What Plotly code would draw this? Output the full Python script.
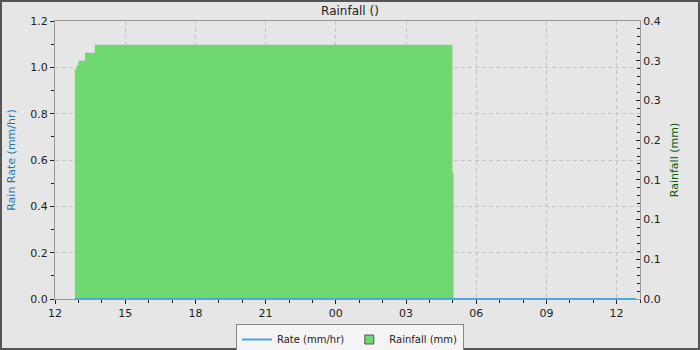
import plotly.graph_objects as go

# Rainfall (mm) step data: time of change -> value
rain_times = ["2024-01-01 12:51", "2024-01-01 12:55", "2024-01-01 13:00", "2024-01-01 13:17",
              "2024-01-01 13:42", "2024-01-02 04:59", "2024-01-02 05:02"]
rain_vals = [0.289, 0.294, 0.300, 0.310, 0.320, 0.159, 0.0]

# Rain rate (mm/hr)
rate_times = ["2024-01-01 12:51", "2024-01-02 12:50"]
rate_vals = [0.0, 0.0]

right_tickvals = [0.0, 0.05, 0.10, 0.15, 0.20, 0.25, 0.30, 0.35]
right_ticktext = ["0.0", "0.1", "0.1", "0.1", "0.2", "0.3", "0.3", "0.4"]

GREEN = "#70d870"
BLUE = "#4aa3d8"
FONT = "DejaVu Sans"

fig = go.Figure()
fig.add_trace(go.Scatter(x=rain_times, y=rain_vals, mode="lines", line=dict(width=0, shape="hv"),
                         fill="tozeroy", fillcolor=GREEN, yaxis="y", showlegend=False,
                         hoverinfo="skip"))
fig.add_trace(go.Scatter(x=[None], y=[None], mode="markers", name="Rainfall (mm)",
                         marker=dict(symbol="square", size=9, color=GREEN,
                                     line=dict(color="#555555", width=1)),
                         yaxis="y", legendrank=2))
fig.add_trace(go.Scatter(x=rate_times, y=rate_vals, mode="lines", name="Rate (mm/hr)",
                         line=dict(color=BLUE, width=2), yaxis="y2", legendrank=1))

axis_common = dict(showline=True, linecolor="#999999", linewidth=1,
                   tickcolor="#222222", tickfont=dict(family=FONT, size=11, color="#222222"))

L, R, T, B = 55, 60, 21, 51
W, H = 700, 350
pw, ph = W - L - R, H - T - B
GRIDDASH = "4px,3px"

fig.update_layout(
    width=W, height=H,
    margin=dict(l=L, r=R, t=T, b=B, pad=0, autoexpand=False),
    paper_bgcolor="#e6e6e6", plot_bgcolor="#e6e6e6",
    font=dict(family=FONT, size=11, color="#222222"),
    title=dict(text="Rainfall ()", x=0.5, xanchor="center", y=1 - 11 / H, yanchor="middle",
               font=dict(family=FONT, size=12, color="#222222")),
    xaxis=dict(type="date", range=["2024-01-01 12:00", "2024-01-02 13:00"],
               tick0="2024-01-01 12:00", dtick=3 * 3600 * 1000, tickformat="%H",
               ticks="outside", ticklen=4,
               showgrid=True, gridcolor="#c4c4c4", griddash=GRIDDASH, gridwidth=1,
               minor=dict(dtick=3600 * 1000, ticks="outside", ticklen=3, tickcolor="#222222",
                          showgrid=False),
               mirror=True, zeroline=False, **axis_common),
    yaxis=dict(range=[0, 0.35], side="right", tickvals=right_tickvals, ticktext=right_ticktext,
               ticks="inside", ticklen=4,
               showgrid=False, zeroline=False,
               minor=dict(dtick=0.01, ticks="inside", ticklen=3, tickcolor="#222222", showgrid=False),
               title=dict(text="Rainfall (mm)", font=dict(family=FONT, size=11, color="#0a5a0a"),
                          standoff=10),
               **axis_common),
    yaxis2=dict(range=[0, 1.2], overlaying="y", side="left", dtick=0.2, tickformat=".1f",
                ticks="outside", ticklen=4,
                showgrid=True, gridcolor="#c4c4c4", griddash=GRIDDASH, gridwidth=1, zeroline=False,
                minor=dict(dtick=0.1, ticks="outside", ticklen=3, tickcolor="#222222", showgrid=False),
                title=dict(text="Rain Rate (mm/hr)", font=dict(family=FONT, size=11, color="#1f78b4"),
                           standoff=12),
                **axis_common),
    legend=dict(orientation="h", x=(350 - L) / pw, xanchor="center", y=-(324 - (T + ph)) / ph,
                yanchor="top", bgcolor="#f4f4f4", bordercolor="#888888", borderwidth=1,
                font=dict(family=FONT, size=10, color="#222222"), traceorder="normal",
                itemwidth=30, tracegroupgap=0),
    showlegend=True,
)

# outer frame around the whole image
fig.add_shape(type="rect", xref="paper", yref="paper",
              x0=(1 - L) / pw, x1=(W - 1 - L) / pw,
              y0=-(H - 1 - T - ph) / ph, y1=(T + ph - 1) / ph,
              line=dict(color="#555555", width=2), fillcolor="rgba(0,0,0,0)", layer="above")

fig.write_html("out.html")
